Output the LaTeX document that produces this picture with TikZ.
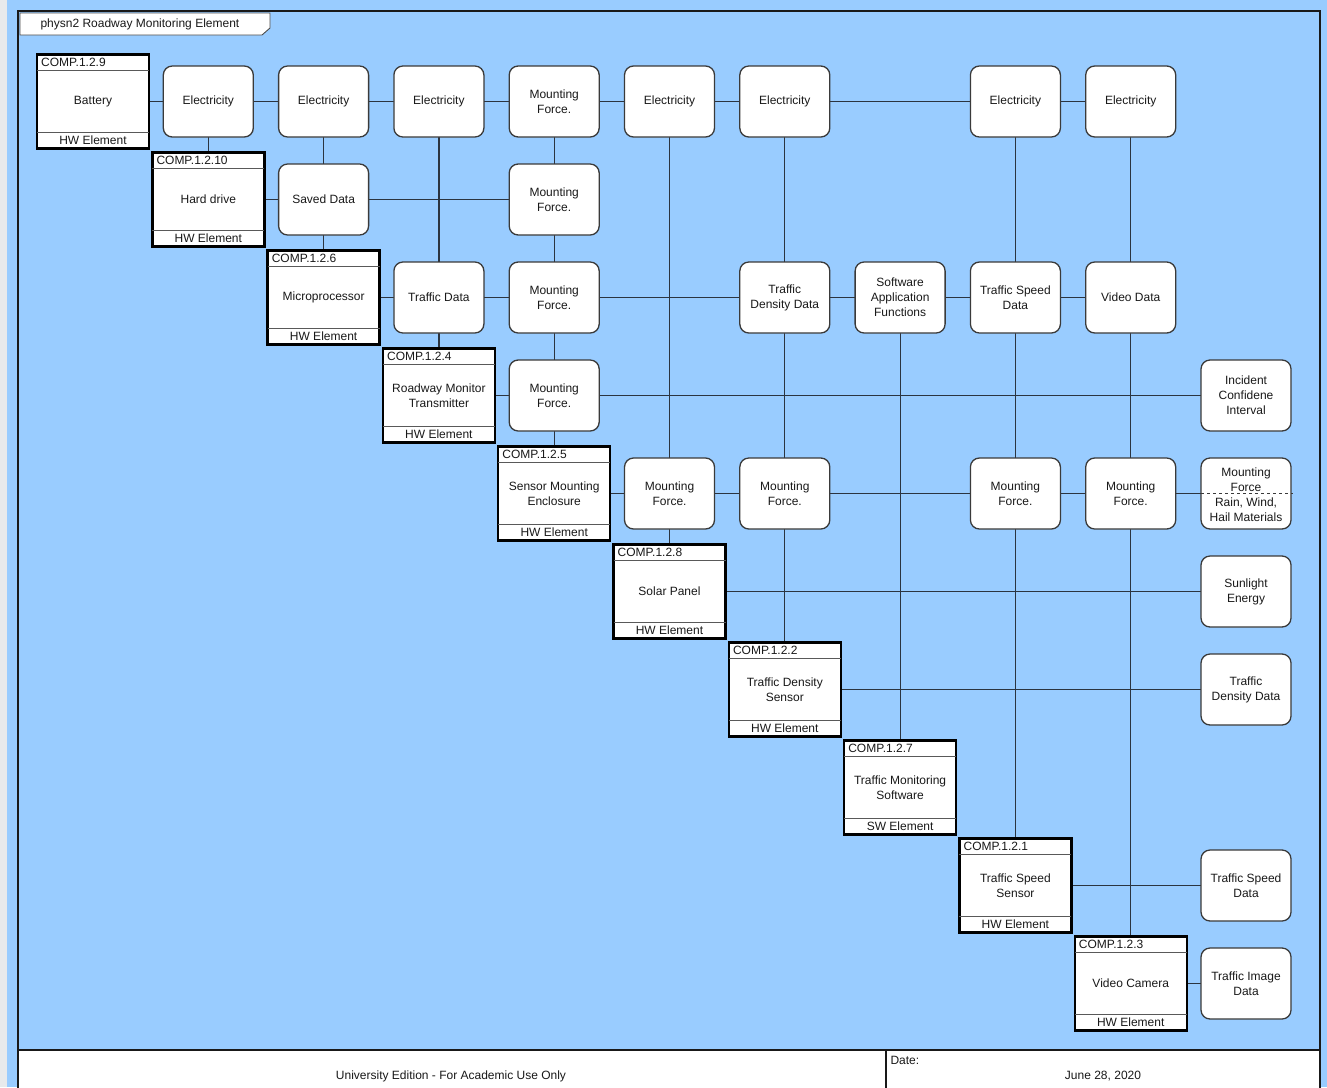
\documentclass[tikz,border=0pt]{standalone}
\usepackage{fontspec}
\setmainfont{Liberation Sans}
\pgfdeclarelayer{bg}
\pgfdeclarelayer{wires}
\pgfsetlayers{bg,wires,main}

\definecolor{canvasblue}{HTML}{99CCFF}
\definecolor{wire}{HTML}{2B3440}
\definecolor{boxline}{HTML}{3A3A3A}
\definecolor{sidegray}{HTML}{E8EAEC}

\begin{document}
\begin{tikzpicture}[x=1pt,y=-1pt,
  txt/.style={font=\fontsize{12}{15}\selectfont, text=black!90},
  iface/.style={txt, draw=boxline, line width=1.3pt, fill=white,
    rounded corners=9pt, minimum width=90pt, minimum height=71pt,
    align=center, inner sep=1pt, outer sep=0pt},
  comp/.style={txt, draw=black, line width=2.4pt, fill=white,
    minimum width=112pt, minimum height=94pt, align=center,
    inner sep=1pt, outer sep=0pt},
  divider/.style={draw=black!65, line width=1.1pt},
  link/.style={draw=wire, line width=1.2pt}]

\useasboundingbox (0,0) rectangle (1327,1087);

% canvas
\begin{pgfonlayer}{bg}
  \fill[canvasblue] (0,0) rectangle (1327,1087);
  \fill[sidegray] (0,0) rectangle (7,1087);
  \draw[line width=2.4pt, black!90] (18,1100) -- (18,11) -- (1320,11) -- (1320,1100);
\end{pgfonlayer}

% diagram title tab
\draw[fill=white, draw=black!70, line width=0.9pt]
  (20,13) -- (270,13) -- (270,28) -- (262,35) -- (20,35) -- cycle;
\node[txt, anchor=west] (title) at (37,24) {physn2 Roadway Monitoring Element};

% components on the diagonal
\foreach \i/\id/\nm/\kind in {
  0/9/Battery/HW,
  1/10/Hard drive/HW,
  2/6/Microprocessor/HW,
  3/4/{Roadway Monitor\\Transmitter}/HW,
  4/5/{Sensor Mounting\\Enclosure}/HW,
  5/8/Solar Panel/HW,
  6/2/{Traffic Density\\Sensor}/HW,
  7/7/{Traffic Monitoring\\Software}/SW,
  8/1/{Traffic Speed\\Sensor}/HW,
  9/3/Video Camera/HW}{
  \node[comp] (c\i) at ({93+115.3*\i},{101.5+98*\i}) {\nm};
  \draw[divider] ([yshift=-16pt]c\i.north west) -- ([yshift=-16pt]c\i.north east);
  \draw[divider] ([yshift=16pt]c\i.south west) -- ([yshift=16pt]c\i.south east);
  \node[txt, anchor=west, inner sep=0pt] (h\i) at ([xshift=4pt,yshift=-8pt]c\i.north west) {COMP.1.2.\id};
  \node[txt, inner sep=0pt] (k\i) at ([yshift=8pt]c\i.south) {\kind\ Element};
}

% interface items
\foreach \r/\c/\t in {
  0/1/Electricity, 0/2/Electricity, 0/3/Electricity, 0/4/{Mounting\\Force.},
  0/5/Electricity, 0/6/Electricity, 0/8/Electricity, 0/9/Electricity,
  1/2/Saved Data, 1/4/{Mounting\\Force.},
  2/3/Traffic Data, 2/4/{Mounting\\Force.}, 2/6/{Traffic\\Density Data},
  2/7/{Software\\Application\\Functions}, 2/8/{Traffic Speed\\Data}, 2/9/Video Data,
  3/4/{Mounting\\Force.}, 3/10/{Incident\\Confidene\\Interval},
  4/5/{Mounting\\Force.}, 4/6/{Mounting\\Force.}, 4/8/{Mounting\\Force.},
  4/9/{Mounting\\Force.},
  5/10/{Sunlight\\Energy}, 6/10/{Traffic\\Density Data},
  8/10/{Traffic Speed\\Data}, 9/10/{Traffic Image\\Data}}{
  \node[iface] (i\r-\c) at ({93+115.3*\c},{101.5+98*\r}) {\t};
}

% split item: input and output on one node
\node[iface] (i4-10) at ({93+115.3*10},{101.5+98*4}) {};
\draw[dashed, draw=boxline, line width=1pt] (i4-10.west) -- ([xshift=2pt]i4-10.east);
\node[txt, align=center, inner sep=0pt] (mf) at ([yshift=14pt]i4-10.center) {Mounting\\Force};
\node[txt, align=center, inner sep=0pt] (rw) at ([yshift=-16pt]i4-10.center) {Rain, Wind,\\Hail Materials};

% connectors
\begin{pgfonlayer}{wires}
  % rows
  \draw[link] (c0) -- (i0-9);
  \draw[link] (c1) -- (i1-4);
  \draw[link] (c2) -- (i2-9);
  \draw[link] (c3) -- (i3-10);
  \draw[link] (c4) -- (i4-10);
  \draw[link] (c5) -- (i5-10);
  \draw[link] (c6) -- (i6-10);
  \draw[link] (c8) -- (i8-10);
  \draw[link] (c9) -- (i9-10);
  % columns
  \draw[link] (i0-1) -- (c1);
  \draw[link] (i0-2) -- (c2);
  \draw[link] (i0-3) -- (c3);
  \draw[link] (i0-4) -- (c4);
  \draw[link] (i0-5) -- (c5);
  \draw[link] (i0-6) -- (c6);
  \draw[link] (i2-7) -- (c7);
  \draw[link] (i0-8) -- (c8);
  \draw[link] (i0-9) -- (c9);
\end{pgfonlayer}

% footer
\draw[fill=white, draw=black!90, line width=2.4pt] (18,1050) rectangle (1320,1100);
\draw[black!90, line width=1.5pt] (886,1050) -- (886,1100);
\node[txt] (edition) at (451,1076) {University Edition - For Academic Use Only};
\node[txt, anchor=west] (datelbl) at (887,1060) {Date:};
\node[txt] (date) at (1103,1076) {June 28, 2020};
\end{tikzpicture}
\end{document}
